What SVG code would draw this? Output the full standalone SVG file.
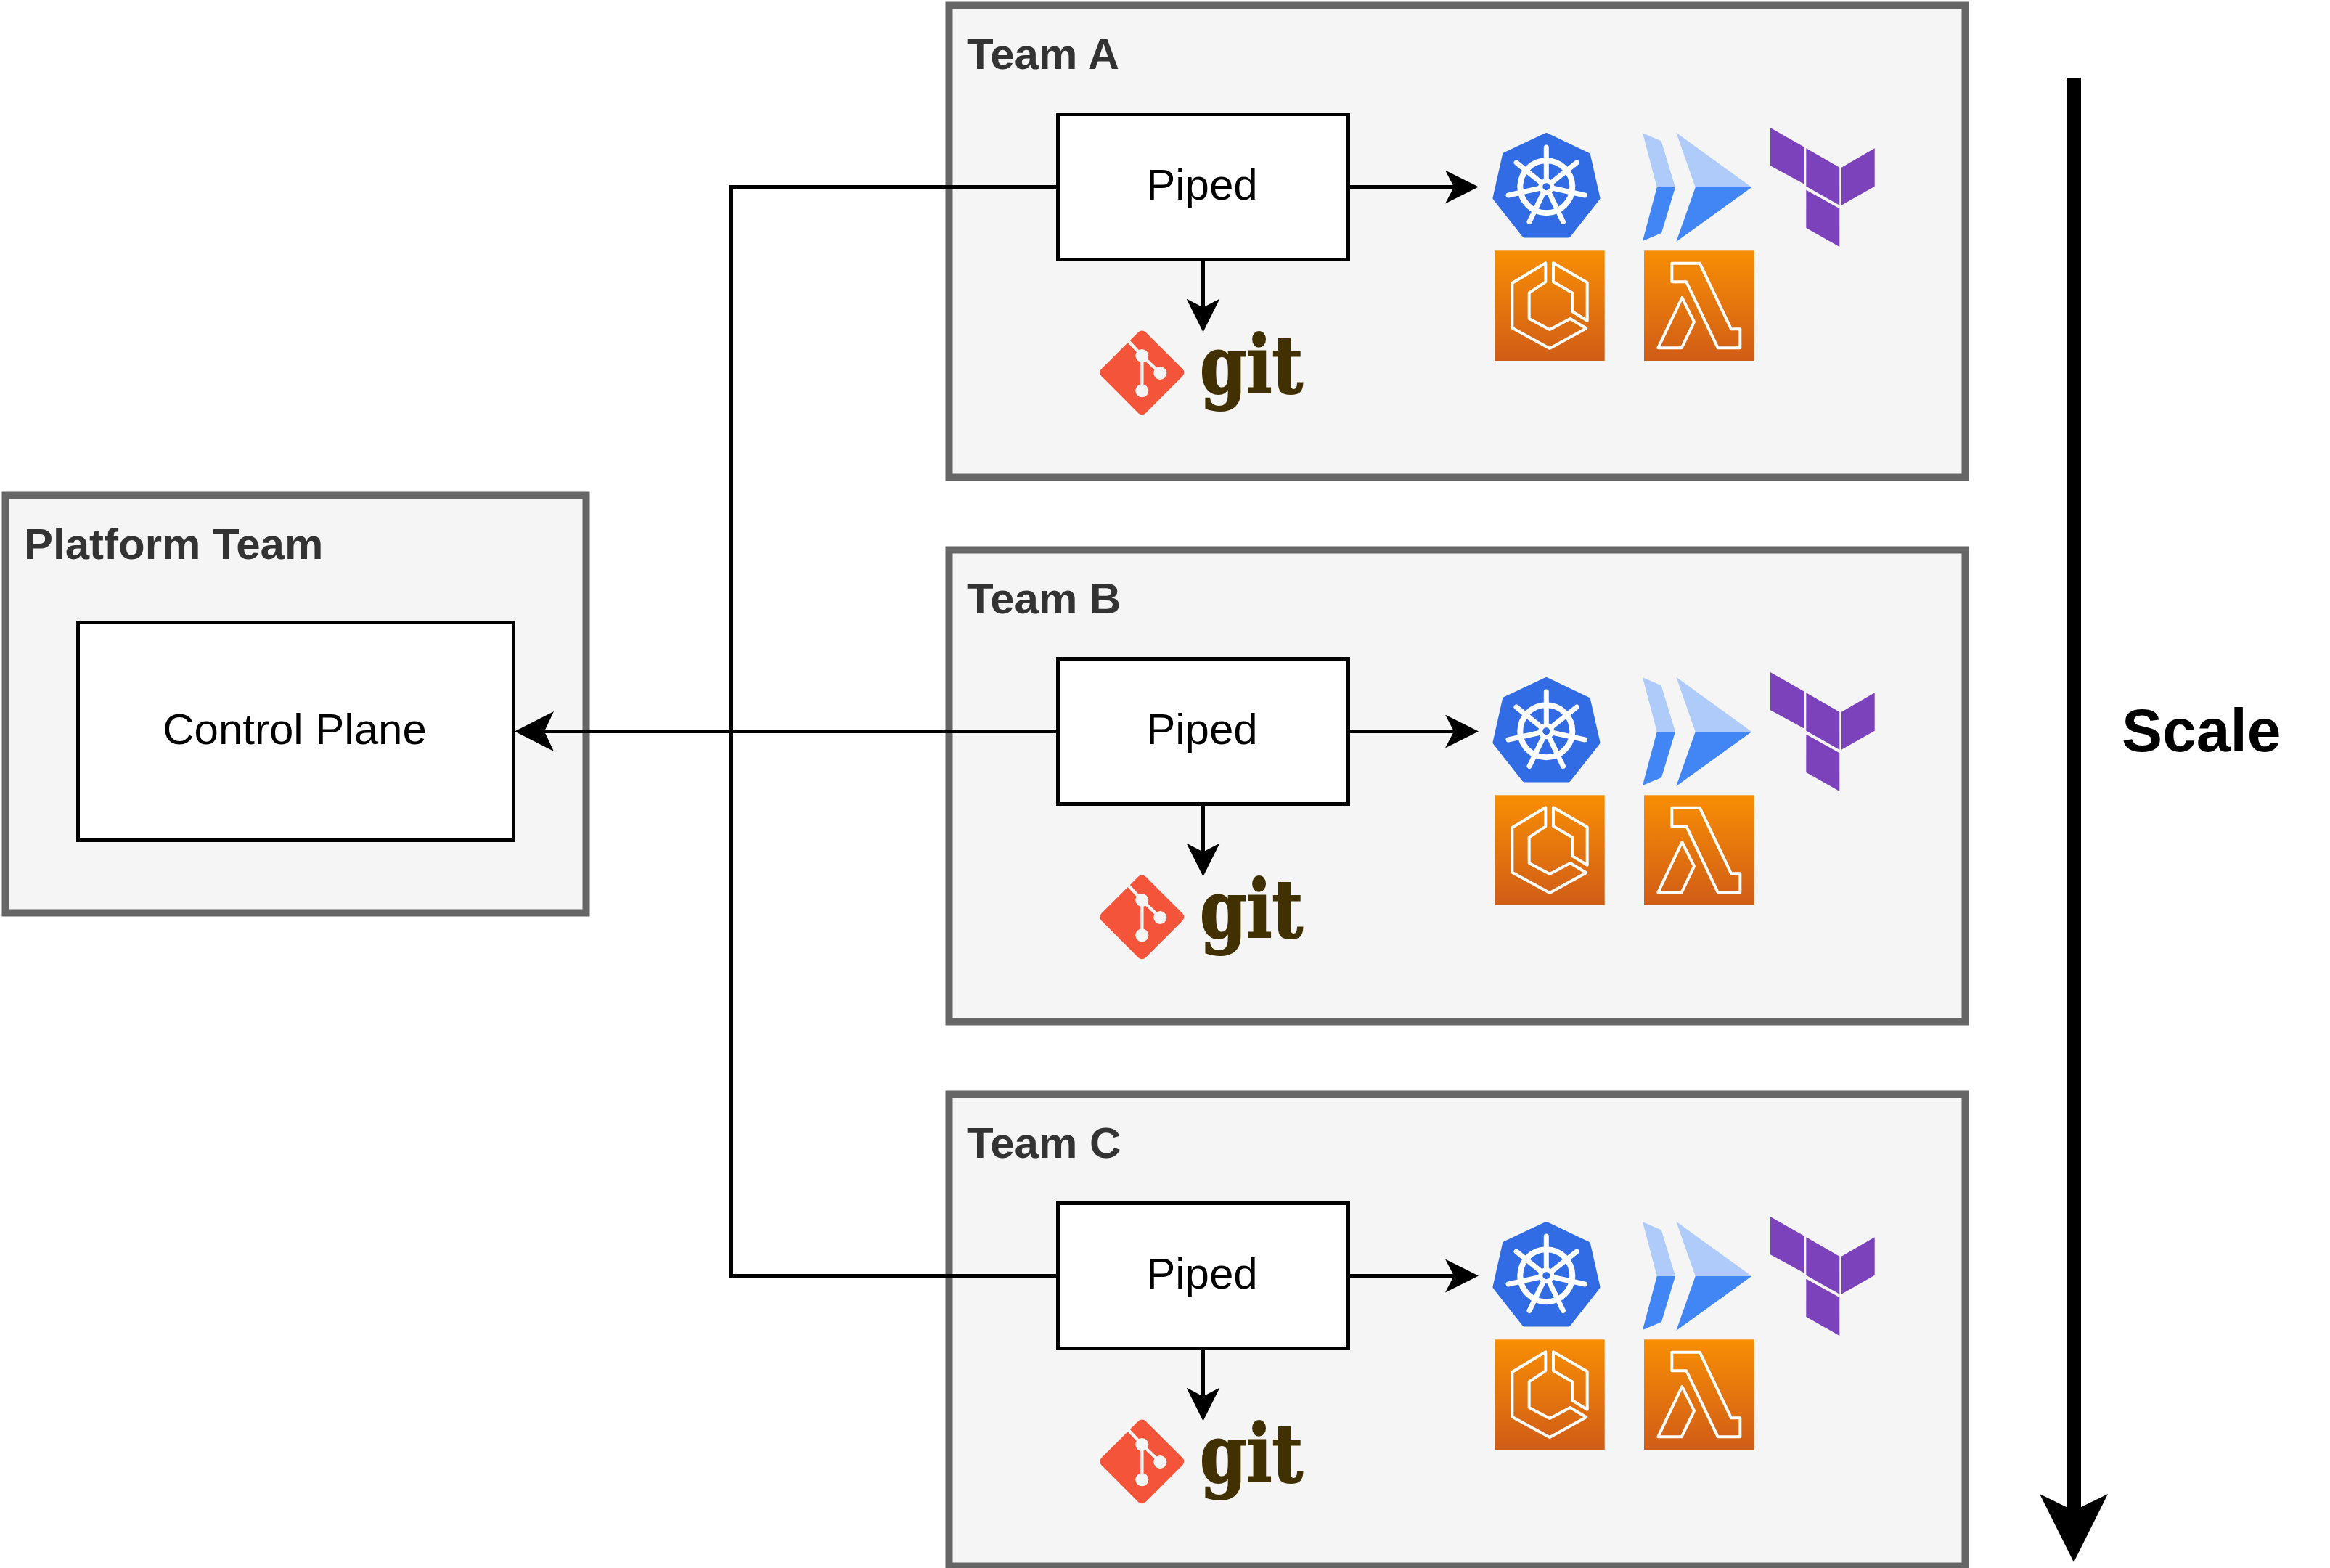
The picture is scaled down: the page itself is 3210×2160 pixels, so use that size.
<svg xmlns="http://www.w3.org/2000/svg" width="3210" height="2160" viewBox="0 0 3210 2160">
<style>
.panel{fill:#f5f5f5;stroke:#666;stroke-width:10}
.box{fill:#fff;stroke:#000;stroke-width:5}
.title{font:bold 60px "Liberation Sans",Arial,sans-serif;fill:#333}
.lbl{font:60px "Liberation Sans",Arial,sans-serif;fill:#000;text-anchor:middle}
.gitword{font:bold 110px "DejaVu Serif",serif;fill:#413000;stroke:#413000;stroke-width:2}
.wire{fill:none;stroke:#000;stroke-width:5;marker-end:url(#arrow)}
.aws{fill:none;stroke:#fff;stroke-width:4;stroke-linejoin:round}
</style>
<defs>
<marker id="arrow" markerUnits="userSpaceOnUse" markerWidth="46" markerHeight="46" viewBox="0 0 46 46" refX="12" refY="23" orient="auto"><path d="M0 0L46 23L0 46L12 23z" fill="#000"/></marker>
<marker id="arrowlarge" markerUnits="userSpaceOnUse" markerWidth="54" markerHeight="55" viewBox="0 0 54 55" refX="13" refY="27.5" orient="auto"><path d="M0 0L54 27.5L0 55L13 27.5z" fill="#000"/></marker>
<marker id="bigarrow" markerUnits="userSpaceOnUse" markerWidth="94" markerHeight="94" viewBox="0 0 94 94" refX="23" refY="47" orient="auto"><path d="M0 0L94 47L0 94L23 47z" fill="#000"/></marker>
<linearGradient id="awsg" x1="0" y1="0" x2="0" y2="1"><stop offset="0" stop-color="#f78e04"/><stop offset="1" stop-color="#d05c17"/></linearGradient>
<g id="k8s">
<path d="M2130.3 186L2188 213.5L2201.5 273L2161 324.5H2100L2059.5 273L2073 213z" fill="#326ce5" stroke="#326ce5" stroke-width="6" stroke-linejoin="round"/>
<circle cx="2130.3" cy="257.3" r="36" fill="none" stroke="#fff" stroke-width="8"/>
<path d="M2130.3 257.3L2130.3 203M2130.3 257.3L2172.3 224M2130.3 257.3L2183.5 269M2130.3 257.3L2153.5 305.5M2130.3 257.3L2107 305.5M2130.3 257.3L2078 269M2130.3 257.3L2089 224" stroke="#fff" stroke-width="7" stroke-linecap="round" fill="none"/>
<circle cx="2130.3" cy="257.3" r="11" fill="#fff"/>
<circle cx="2130.3" cy="257.3" r="5" fill="#326ce5"/>
</g>
<g id="deploy">
<path d="M2263 183.3L2288.7 194.3L2308 258H2282.7z" fill="#aecbfa"/>
<path d="M2282.7 258H2308L2289 321L2263 332z" fill="#4285f4"/>
<path d="M2309.3 182.7L2413.3 258H2335.7z" fill="#aecbfa"/>
<path d="M2335.7 258H2413.3L2309.3 333z" fill="#4285f4"/>
</g>
<g id="terraform" fill="#7b42bc">
<path d="M2439 176L2485 202.3V253.3L2439 228.3z"/>
<path d="M2488.3 204.3L2534.3 230.7V282.7L2488.3 256.7z"/>
<path d="M2537 230.7L2582.7 204.3V256.7L2537 282.7z"/>
<path d="M2488.3 261.7L2534.3 287.3V340L2488.3 314z"/>
</g>
<g id="ecs">
<rect x="2059" y="345.3" width="151.7" height="151.7" fill="url(#awsg)"/>
<path class="aws" d="M2129.3 362.3V388.3L2106.7 403.3V439L2135 454L2163.3 439L2185.3 452.3L2135 480L2083.3 451.7V390z"/>
<path class="aws" d="M2140 362.3L2186.7 389.3V441.7L2166 429V403.3L2140 388.3z"/>
</g>
<g id="lambda">
<rect x="2265" y="345.3" width="151.7" height="151.7" fill="url(#awsg)"/>
<path class="aws" d="M2303.3 362.7H2341.7L2385 453.3H2397.3V479.3H2366.7L2323.3 388.3H2303.3z"/>
<path class="aws" d="M2317.3 410L2334 443.3L2316.7 479.3H2284.3z"/>
</g>
<g id="gitmark">
<rect x="1530.3" y="470.3" width="86" height="86" rx="7" fill="#f4553a" transform="rotate(45 1573.3 513.3)"/>
<path d="M1551 466L1573.3 490L1598.3 514M1573.3 490V538.3" fill="none" stroke="#f5f5f5" stroke-width="4.5"/>
<circle cx="1573.3" cy="490" r="9" fill="#f5f5f5"/>
<circle cx="1598.3" cy="514" r="9" fill="#f5f5f5"/>
<circle cx="1573.3" cy="538.3" r="9" fill="#f5f5f5"/>
</g>
</defs>

<g id="platform-team">
<rect class="panel" x="7.5" y="682.5" width="800" height="575"/>
<text class="title" x="33" y="770">Platform Team</text>
</g>
<g id="team-a">
<rect class="panel" x="1307.5" y="7.5" width="1400" height="650"/>
<text class="title" x="1332" y="95">Team A</text>
</g>
<g id="team-b">
<rect class="panel" x="1307.5" y="757.5" width="1400" height="650"/>
<text class="title" x="1332" y="845">Team B</text>
</g>
<g id="team-c">
<rect class="panel" x="1307.5" y="1507.5" width="1400" height="650"/>
<text class="title" x="1332" y="1595">Team C</text>
</g>

<g id="connectors">
<path class="wire" style="marker-end:none" d="M1457.5 257.5H1007.5V1757.5H1457.5"/>
<path class="wire" style="marker-end:url(#arrowlarge)" d="M1457.5 1007.5H750"/>
<path class="wire" d="M1857.5 257.5H2003"/>
<path class="wire" d="M1857.5 1007.5H2003"/>
<path class="wire" d="M1857.5 1757.5H2003"/>
<path class="wire" d="M1657.5 357.5V423.5"/>
<path class="wire" d="M1657.5 1107.5V1173.5"/>
<path class="wire" d="M1657.5 1857.5V1923.5"/>
<path d="M2857 107V2081" fill="none" stroke="#000" stroke-width="20" marker-end="url(#bigarrow)"/>
</g>

<g id="control-plane">
<rect class="box" x="107.5" y="857.5" width="600" height="300"/>
<text class="lbl" x="406" y="1025">Control Plane</text>
</g>
<g id="piped-a"><rect class="box" x="1457.5" y="157.5" width="400" height="200"/><text class="lbl" x="1656" y="275">Piped</text></g>
<g id="piped-b"><rect class="box" x="1457.5" y="907.5" width="400" height="200"/><text class="lbl" x="1656" y="1025">Piped</text></g>
<g id="piped-c"><rect class="box" x="1457.5" y="1657.5" width="400" height="200"/><text class="lbl" x="1656" y="1775">Piped</text></g>

<g id="git-a"><use href="#gitmark"/><text class="gitword" x="1653" y="541" textLength="142" lengthAdjust="spacingAndGlyphs">git</text></g>
<g id="git-b"><use href="#gitmark" y="750"/><text class="gitword" x="1653" y="1291" textLength="142" lengthAdjust="spacingAndGlyphs">git</text></g>
<g id="git-c"><use href="#gitmark" y="1500"/><text class="gitword" x="1653" y="2041" textLength="142" lengthAdjust="spacingAndGlyphs">git</text></g>

<g id="kubernetes-a"><use href="#k8s"/></g>
<g id="deploy-a"><use href="#deploy"/></g>
<g id="terraform-a"><use href="#terraform"/></g>
<g id="ecs-a"><use href="#ecs"/></g>
<g id="lambda-a"><use href="#lambda"/></g>
<g id="kubernetes-b"><use href="#k8s" y="750"/></g>
<g id="deploy-b"><use href="#deploy" y="750"/></g>
<g id="terraform-b"><use href="#terraform" y="750"/></g>
<g id="ecs-b"><use href="#ecs" y="750"/></g>
<g id="lambda-b"><use href="#lambda" y="750"/></g>
<g id="kubernetes-c"><use href="#k8s" y="1500"/></g>
<g id="deploy-c"><use href="#deploy" y="1500"/></g>
<g id="terraform-c"><use href="#terraform" y="1500"/></g>
<g id="ecs-c"><use href="#ecs" y="1500"/></g>
<g id="lambda-c"><use href="#lambda" y="1500"/></g>

<g id="scale-label"><text x="2923" y="1035" style="font:bold 84px 'Liberation Sans',Arial,sans-serif;fill:#000">Scale</text></g>
</svg>
